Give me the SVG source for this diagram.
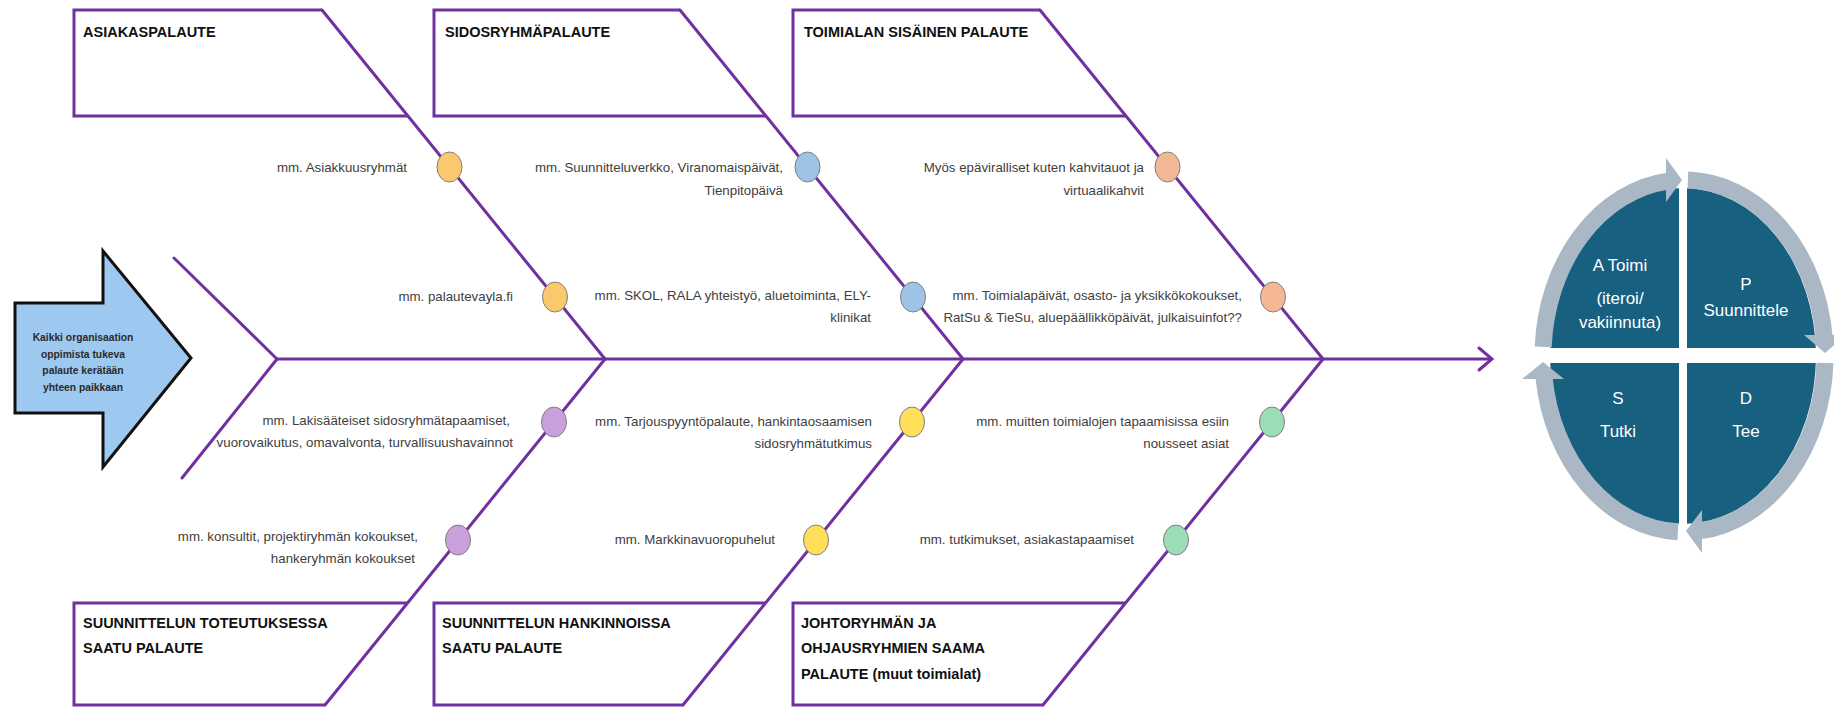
<svg xmlns="http://www.w3.org/2000/svg" width="1834" height="707" viewBox="0 0 1834 707">
<style>
.bone{stroke:#7030A0;stroke-width:3;fill:none;stroke-linecap:round;stroke-linejoin:miter}
.box{stroke:#7030A0;stroke-width:3;fill:none}
.title{font-family:"Liberation Sans",Arial,sans-serif;font-weight:bold;font-size:14.5px;fill:#111}
.lbl{font-family:"Liberation Sans",Arial,sans-serif;font-size:13.3px;fill:#404040;text-anchor:end}
.dot{stroke:#7f7f7f;stroke-width:1}
.ring{stroke:#AAB7C4;stroke-width:17;fill:none}
.head{fill:#AAB7C4}
.pd{font-family:"Liberation Sans",Arial,sans-serif;font-size:17px;fill:#ffffff;text-anchor:middle}
</style>
<rect width="1834" height="707" fill="#ffffff"/>

<g id="connectors">
  <polyline class="bone" points="174,258 277,359 182,478"/>
  <line class="bone" x1="277" y1="359" x2="1491" y2="359"/>
  <polyline class="bone" points="1479,348 1492,359 1479,370"/>
  <line class="bone" x1="322" y1="10" x2="605" y2="359"/>
  <line class="bone" x1="680" y1="10" x2="963" y2="359"/>
  <line class="bone" x1="1040" y1="10" x2="1323" y2="359"/>
  <line class="bone" x1="605" y1="359" x2="325" y2="705"/>
  <line class="bone" x1="963" y1="359" x2="683" y2="705"/>
  <line class="bone" x1="1323" y1="359" x2="1043" y2="705"/>
</g>

<g id="start-arrow">
  <polygon points="15,303 103,303 103,251 191,358 103,467 103,413 15,413" fill="#9DC8F0" stroke="#111" stroke-width="3"/>
  <g font-family="'Liberation Sans',Arial,sans-serif" font-weight="bold" font-size="10.3" fill="#2a2a2a" text-anchor="middle">
    <text x="83" y="341">Kaikki organisaation</text>
    <text x="83" y="358">oppimista tukeva</text>
    <text x="83" y="374">palaute kerätään</text>
    <text x="83" y="391">yhteen paikkaan</text>
  </g>
</g>

<g id="box-asiakaspalaute">
  <polyline class="box" points="408,116 74,116 74,10 322,10"/>
  <text class="title" x="83" y="37">ASIAKASPALAUTE</text>
</g>
<g id="box-sidosryhmapalaute">
  <polyline class="box" points="766,116 434,116 434,10 680,10"/>
  <text class="title" x="445" y="37">SIDOSRYHMÄPALAUTE</text>
</g>
<g id="box-toimialan">
  <polyline class="box" points="1126,116 793,116 793,10 1040,10"/>
  <text class="title" x="804" y="37">TOIMIALAN SISÄINEN PALAUTE</text>
</g>
<g id="box-toteutus">
  <polyline class="box" points="407,603 74,603 74,705 325,705"/>
  <text class="title" x="83" y="628">SUUNNITTELUN TOTEUTUKSESSA</text>
  <text class="title" x="83" y="653">SAATU PALAUTE</text>
</g>
<g id="box-hankinnat">
  <polyline class="box" points="765,603 434,603 434,705 683,705"/>
  <text class="title" x="442" y="628">SUUNNITTELUN HANKINNOISSA</text>
  <text class="title" x="442" y="653">SAATU PALAUTE</text>
</g>
<g id="box-johtoryhma">
  <polyline class="box" points="1125,603 793,603 793,705 1043,705"/>
  <text class="title" x="801" y="628">JOHTORYHMÄN JA</text>
  <text class="title" x="801" y="653">OHJAUSRYHMIEN SAAMA</text>
  <text class="title" x="801" y="679">PALAUTE (muut toimialat)</text>
</g>

<g id="item-1a">
  <ellipse class="dot" cx="449.5" cy="167" rx="12.5" ry="15" fill="#FAC96E"/>
  <text class="lbl" x="407" y="172">mm. Asiakkuusryhmät</text>
</g>
<g id="item-1b">
  <ellipse class="dot" cx="555" cy="297" rx="12.5" ry="15" fill="#FAC96E"/>
  <text class="lbl" x="513" y="301">mm. palautevayla.fi</text>
</g>
<g id="item-2a">
  <ellipse class="dot" cx="807.5" cy="167" rx="12.5" ry="15" fill="#9DC3E6"/>
  <text class="lbl" x="783" y="172">mm. Suunnitteluverkko, Viranomaispäivät,</text>
  <text class="lbl" x="783" y="195">Tienpitopäivä</text>
</g>
<g id="item-2b">
  <ellipse class="dot" cx="913" cy="297" rx="12.5" ry="15" fill="#9DC3E6"/>
  <text class="lbl" x="871" y="300">mm. SKOL, RALA yhteistyö, aluetoiminta, ELY-</text>
  <text class="lbl" x="871" y="322">klinikat</text>
</g>
<g id="item-3a">
  <ellipse class="dot" cx="1167.5" cy="167" rx="12.5" ry="15" fill="#F5B895"/>
  <text class="lbl" x="1144" y="172">Myös epäviralliset kuten kahvitauot ja</text>
  <text class="lbl" x="1144" y="195">virtuaalikahvit</text>
</g>
<g id="item-3b">
  <ellipse class="dot" cx="1273" cy="297" rx="12.5" ry="15" fill="#F5B895"/>
  <text class="lbl" x="1242" y="300">mm. Toimialapäivät, osasto- ja yksikkökokoukset,</text>
  <text class="lbl" x="1242" y="322">RatSu &amp; TieSu, aluepäällikköpäivät, julkaisuinfot??</text>
</g>
<g id="item-4a">
  <ellipse class="dot" cx="554" cy="422" rx="12.5" ry="15" fill="#C9A0DC"/>
  <text class="lbl" x="510" y="425">mm. Lakisääteiset sidosryhmätapaamiset,</text>
  <text class="lbl" x="513" y="447">vuorovaikutus, omavalvonta, turvallisuushavainnot</text>
</g>
<g id="item-4b">
  <ellipse class="dot" cx="458" cy="540" rx="12.5" ry="15" fill="#C9A0DC"/>
  <text class="lbl" x="418" y="541">mm. konsultit, projektiryhmän kokoukset,</text>
  <text class="lbl" x="415" y="563">hankeryhmän kokoukset</text>
</g>
<g id="item-5a">
  <ellipse class="dot" cx="912" cy="422" rx="12.5" ry="15" fill="#FFDE59"/>
  <text class="lbl" x="872" y="426">mm. Tarjouspyyntöpalaute, hankintaosaamisen</text>
  <text class="lbl" x="872" y="448">sidosryhmätutkimus</text>
</g>
<g id="item-5b">
  <ellipse class="dot" cx="816" cy="540" rx="12.5" ry="15" fill="#FFDE59"/>
  <text class="lbl" x="775" y="544">mm. Markkinavuoropuhelut</text>
</g>
<g id="item-6a">
  <ellipse class="dot" cx="1272" cy="422" rx="12.5" ry="15" fill="#9ADDB6"/>
  <text class="lbl" x="1229" y="426">mm. muitten toimialojen tapaamisissa esiin</text>
  <text class="lbl" x="1229" y="448">nousseet asiat</text>
</g>
<g id="item-6b">
  <ellipse class="dot" cx="1176" cy="540" rx="12.5" ry="15" fill="#9ADDB6"/>
  <text class="lbl" x="1134" y="544">mm. tutkimukset, asiakastapaamiset</text>
</g>

<g id="pdca">
  <ellipse cx="1683" cy="356" rx="133" ry="168" fill="#186080"/>
  <rect x="1679" y="180" width="8" height="360" fill="#ffffff"/>
  <rect x="1530" y="348" width="304" height="15" fill="#ffffff"/>
  <path class="ring" d="M1543.2,346.8 A141,176 0 0 1 1668,181.1"/>
  <path class="ring" d="M1687.9,180.1 A141,176 0 0 1 1824.1,336.1"/>
  <path class="ring" d="M1824.9,363.1 A141,176 0 0 1 1701.2,530.7"/>
  <path class="ring" d="M1677.9,531.8 A141,176 0 0 1 1544.1,378.1"/>
  <polygon class="head" points="1666,158 1682,180 1666,202"/>
  <polygon class="head" points="1804,335 1846,335 1825,353"/>
  <polygon class="head" points="1702,510 1686,531 1702,553"/>
  <polygon class="head" points="1522,379 1564,379 1543,362"/>
  <text class="pd" x="1620" y="271">A Toimi</text>
  <text class="pd" x="1620" y="304">(iteroi/</text>
  <text class="pd" x="1620" y="328">vakiinnuta)</text>
  <text class="pd" x="1746" y="290">P</text>
  <text class="pd" x="1746" y="316">Suunnittele</text>
  <text class="pd" x="1618" y="404">S</text>
  <text class="pd" x="1618" y="437">Tutki</text>
  <text class="pd" x="1746" y="404">D</text>
  <text class="pd" x="1746" y="437">Tee</text>
</g>
</svg>
